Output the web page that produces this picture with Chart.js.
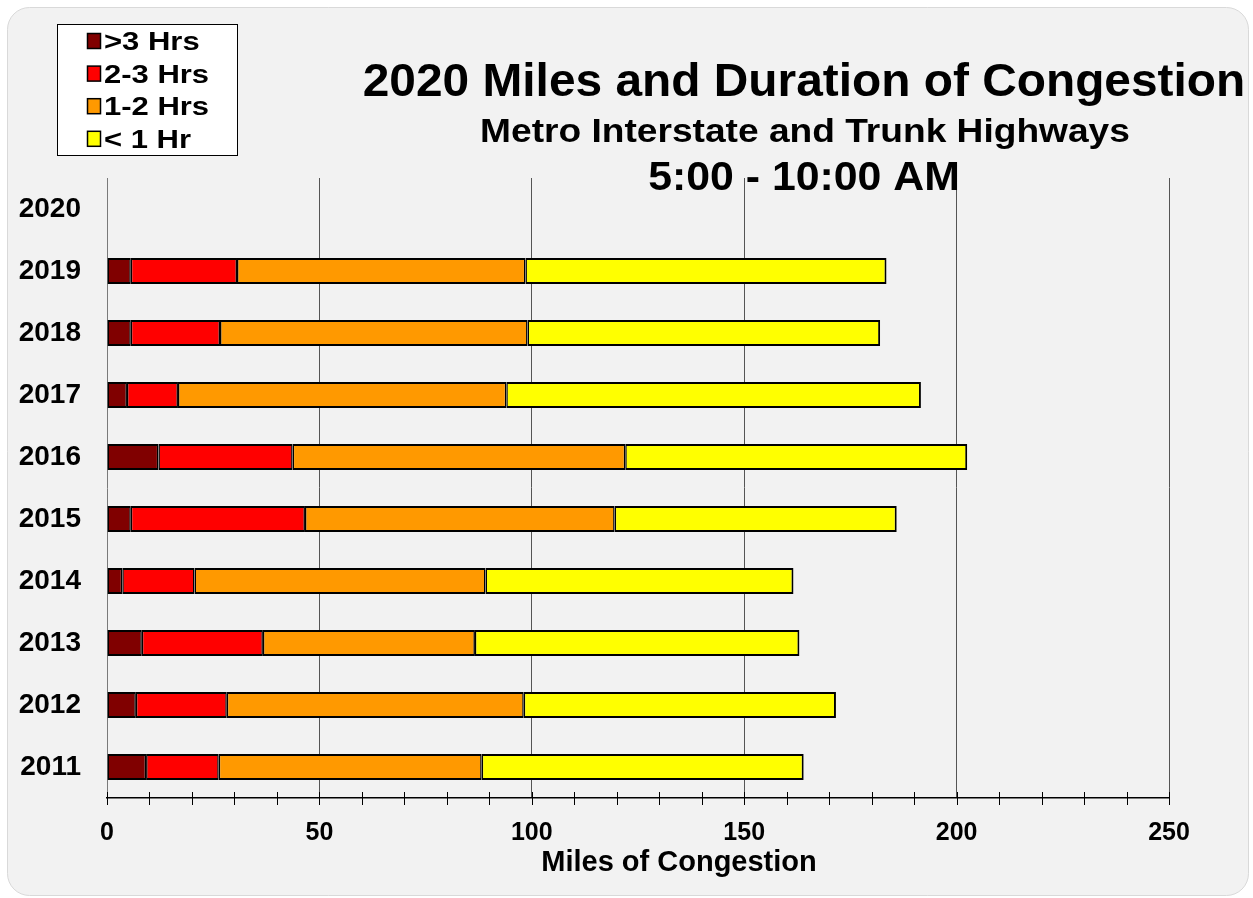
<!DOCTYPE html>
<html>
<head>
<meta charset="utf-8">
<title>2020 Miles and Duration of Congestion</title>
<script src="https://cdn.jsdelivr.net/npm/chart.js@4/dist/chart.umd.min.js"></script>
<style>
  html, body { margin: 0; padding: 0; background: #ffffff; }
  canvas { display: block; }
</style>
</head>
<body>
<canvas id="chart" width="1253" height="898"></canvas>
<script>
// Survey years (bottom to top)
const years = ['2011', '2012', '2013', '2014', '2015', '2016', '2017', '2018', '2019', '2020'];

// Miles of congestion by duration, 5:00 - 10:00 AM
const over3Hrs  = [9.2, 6.8, 8.2, 3.6, 5.6, 12.1, 4.7, 5.6, 5.6, null];
const hrs2to3   = [17.1, 21.4, 28.5, 17.0, 41.0, 31.6, 12.0, 21.0, 25.0, null];
const hrs1to2   = [61.9, 69.9, 49.9, 68.5, 72.9, 78.3, 77.3, 72.4, 67.9, null];
const under1Hr  = [75.8, 73.5, 76.4, 72.5, 66.4, 80.5, 97.6, 83.0, 85.0, null];

const seriesLabels = ['>3 Hrs', '2-3 Hrs', '1-2 Hrs', '< 1 Hr'];
const seriesColors = ['#800000', '#ff0000', '#ff9900', '#ffff00'];

const titleLines = ['2020 Miles and Duration of Congestion', 'Metro Interstate and Trunk Highways', '5:00 - 10:00 AM'];
const xAxisTitle = 'Miles of Congestion';

const FONT = '"Liberation Sans", Arial, Helvetica, sans-serif';

function drawStretched(ctx, text, x, y, size, sx, align) {
  ctx.save();
  ctx.font = 'bold ' + size + 'px ' + FONT;
  ctx.textBaseline = 'alphabetic';
  ctx.textAlign = align || 'center';
  ctx.translate(x, y);
  ctx.scale(sx, 1);
  ctx.fillStyle = '#000';
  ctx.fillText(text, 0, 0);
  ctx.restore();
}

// Rounded grey panel behind the whole chart
const panelPlugin = {
  id: 'panel',
  beforeDraw(chart) {
    const ctx = chart.ctx;
    ctx.save();
    ctx.fillStyle = '#ffffff';
    ctx.fillRect(0, 0, chart.width, chart.height);
    ctx.beginPath();
    ctx.roundRect(7.5, 7.5, 1241, 888, 22);
    ctx.fillStyle = '#f2f2f2';
    ctx.fill();
    ctx.strokeStyle = '#d9d9d9';
    ctx.lineWidth = 1;
    ctx.stroke();
    ctx.restore();
  }
};

// Tick marks crossing the value axis
const crossTicksPlugin = {
  id: 'crossTicks',
  afterDatasetsDraw(chart) {
    const x = chart.scales.x;
    const ctx = chart.ctx;
    ctx.save();
    ctx.strokeStyle = '#000';
    ctx.lineWidth = 1;
    x.ticks.forEach(t => {
      const px = Math.round(x.getPixelForValue(t.value)) + 0.5;
      ctx.beginPath();
      ctx.moveTo(px, x.top - 6);
      ctx.lineTo(px, x.top + 7);
      ctx.stroke();
    });
    ctx.restore();
  }
};

// Titles, axis title and the boxed legend
const textPlugin = {
  id: 'texts',
  afterDraw(chart) {
    const ctx = chart.ctx;
    drawStretched(ctx, titleLines[0], 804, 96, 46, 1.04);
    drawStretched(ctx, titleLines[1], 805, 142, 33, 1.125);
    drawStretched(ctx, titleLines[2], 804, 190, 40, 1.07);
    drawStretched(ctx, xAxisTitle, 679, 871, 29, 1.0);

    // legend box
    ctx.save();
    ctx.fillStyle = '#ffffff';
    ctx.fillRect(57.5, 24.5, 180, 131);
    ctx.strokeStyle = '#000';
    ctx.lineWidth = 1;
    ctx.strokeRect(57.5, 24.5, 180, 131);
    chart.data.datasets.forEach((ds, i) => {
      const top = 33 + i * 32.6;
      ctx.fillStyle = ds.backgroundColor;
      ctx.fillRect(87.5, top + 0.5, 13, 15);
      ctx.strokeStyle = '#000';
      ctx.lineWidth = 1.5;
      ctx.strokeRect(87.5, top + 0.5, 13, 15);
      drawStretched(ctx, ds.label, 104, top + 17, 25, 1.24, 'left');
    });
    ctx.restore();
  }
};

const makeSet = (i, values) => ({
  label: seriesLabels[i],
  data: values,
  backgroundColor: seriesColors[i],
  borderColor: '#000000',
  borderWidth: { top: 2, bottom: 2, left: 1.5, right: i === 3 ? 2 : 1.5 },
  borderSkipped: false,
  barPercentage: 0.42,
  categoryPercentage: 1.0
});

new Chart(document.getElementById('chart'), {
  type: 'bar',
  data: {
    labels: years,
    datasets: [
      makeSet(0, over3Hrs),
      makeSet(1, hrs2to3),
      makeSet(2, hrs1to2),
      makeSet(3, under1Hr)
    ]
  },
  options: {
    indexAxis: 'y',
    responsive: false,
    animation: false,
    devicePixelRatio: 1,
    layout: { padding: { left: 0, right: 84, top: 178, bottom: 0 } },
    plugins: {
      legend: { display: false },
      title: { display: false },
      tooltip: { enabled: false }
    },
    scales: {
      x: {
        stacked: true,
        min: 0,
        max: 250,
        afterFit(scale) { scale.height = 100; },
        grid: {
          drawTicks: false,
          color: ctx => (ctx.tick && ctx.tick.value % 50 === 0 && ctx.tick.value !== 0) ? '#555555' : 'rgba(0,0,0,0)',
          lineWidth: 1
        },
        border: { display: true, color: '#000000', width: 1.5 },
        ticks: {
          stepSize: 10,
          autoSkip: false,
          maxRotation: 0,
          padding: 20,
          color: '#000000',
          font: { family: FONT, size: 25, weight: 'bold' },
          callback: v => (v % 50 === 0 ? String(v) : '')
        }
      },
      y: {
        stacked: true,
        reverse: true,
        afterFit(scale) { scale.width = 107; },
        grid: { display: false, drawTicks: false },
        border: { display: true, color: '#7a7a7a', width: 1 },
        ticks: {
          padding: 26,
          color: '#000000',
          font: { family: FONT, size: 28, weight: 'bold' }
        }
      }
    }
  },
  plugins: [panelPlugin, crossTicksPlugin, textPlugin]
});
</script>
</body>
</html>
